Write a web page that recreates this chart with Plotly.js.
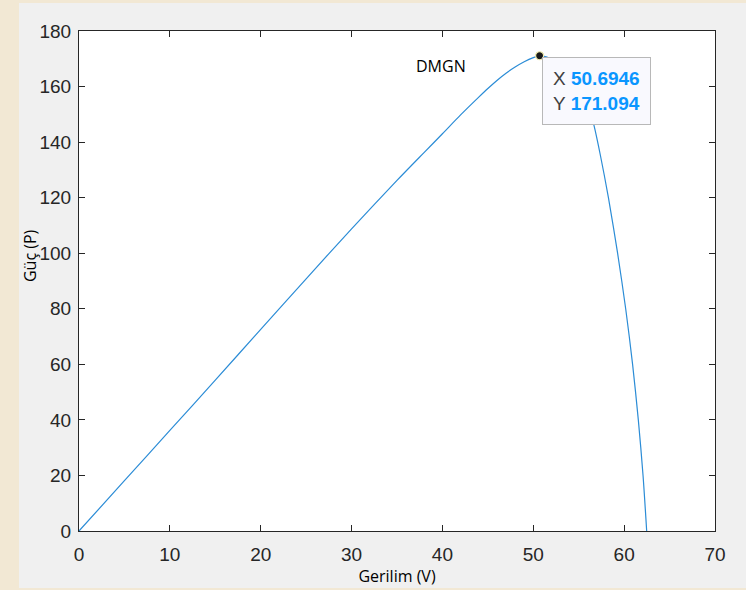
<!DOCTYPE html>
<html>
<head>
<meta charset="utf-8">
<script src="https://cdn.plot.ly/plotly-3.0.1.min.js"></script>
<style>
  html, body { margin: 0; padding: 0; }
  body { width: 746px; height: 590px; overflow: hidden; background: #f2e8d4; }
  #chart {
    width: 746px; height: 590px;
    background: linear-gradient(#f0f0f0, #f0f0f0) 19px 3px / 727px 585px no-repeat, #f2e8d4;
  }
</style>
</head>
<body>
<div id="chart"></div>
<script>
// Voltage (V) and power (P)
const voltage = [0, 5, 10, 15, 20, 25, 30, 35, 38, 40, 42, 44, 45, 46, 47, 48, 49, 50, 50.6946,
                 51.5, 52.5, 53.5, 54.5, 55.5, 56.1, 56.68, 57.4, 58.27, 59.28, 60.17, 60.93, 61.56, 62.08, 62.48];
const power   = [0, 18.1, 36.2, 54.3, 72.6, 90.8, 108.8, 126.2, 136.3, 143.0, 149.8, 156.2, 159.3, 162.2, 164.8, 167.0, 168.9, 170.4, 171.094,
                 170.6, 169.0, 166.3, 162.3, 157.2, 152.8, 146.0, 135.0, 120.0, 100.0, 80.0, 60.0, 40.0, 20.0, 0];
const mppV = 50.6946;
const mppP = 171.094;
const xTicks = [0, 10, 20, 30, 40, 50, 60, 70];
const yTicks = [0, 20, 40, 60, 80, 100, 120, 140, 160, 180];

const curve = {
  x: voltage, y: power, type: 'scatter', mode: 'lines',
  line: { color: '#2b8cd6', width: 1.2, shape: 'spline', smoothing: 0.8 },
  hoverinfo: 'skip', showlegend: false
};
const tip = {
  x: [mppV], y: [mppP], type: 'scatter', mode: 'markers',
  marker: { color: '#1a1a1a', size: 8, line: { color: '#f3eeb0', width: 1.2 } },
  hoverinfo: 'skip', showlegend: false
};

const axisCommon = {
  showgrid: false, zeroline: false,
  showline: true, linecolor: '#262626', linewidth: 1,
  mirror: 'ticks', ticks: 'inside', ticklen: 6, tickwidth: 1, tickcolor: '#262626',
  tickfont: { family: 'Liberation Sans, Arial, sans-serif', size: 19, color: '#262626' },
  fixedrange: true
};

const layout = {
  width: 746, height: 590,
  margin: { l: 79, r: 31, t: 31, b: 59, pad: 0 },
  paper_bgcolor: 'rgba(0,0,0,0)',
  plot_bgcolor: '#ffffff',
  xaxis: Object.assign({}, axisCommon, {
    range: [0, 70], tickvals: xTicks, ticktext: xTicks.map(String),
    ticklabelstandoff: 6,
    title: { text: 'Gerilim (V)', font: { family: 'Open Sans, sans-serif', size: 16, color: '#000' }, standoff: 4 }
  }),
  yaxis: Object.assign({}, axisCommon, {
    range: [0, 180], tickvals: yTicks, ticktext: yTicks.map(String),
    ticklabelstandoff: 3
  }),
  annotations: [
    {
      xref: 'paper', yref: 'paper', x: -0.077, y: 0.55,
      text: 'Güç (P)', textangle: -90, showarrow: false,
      xanchor: 'center', yanchor: 'middle',
      font: { family: 'Open Sans, sans-serif', size: 16, color: '#000' }
    },
    {
      x: 39.8, y: 167.4, xref: 'x', yref: 'y', text: 'DMGN', showarrow: false,
      font: { family: 'Open Sans, sans-serif', size: 16, color: '#000' }
    },
    {
      x: mppV, y: mppP, xref: 'x', yref: 'y',
      text: '<span style="color:#404040">X</span> <b style="color:#0a96ff">' + mppV + '</b><br>' +
            '<span style="color:#404040">Y</span> <b style="color:#0a96ff">' + mppP + '</b>',
      showarrow: false, xanchor: 'left', yanchor: 'top', align: 'left',
      xshift: 2, yshift: -1,
      bgcolor: '#f9f9fe', bordercolor: '#b8b8b8', borderwidth: 1, borderpad: 10,
      font: { family: 'Liberation Sans, Arial, sans-serif', size: 19, color: '#404040' }
    }
  ]
};

Plotly.newPlot('chart', [curve, tip], layout, { displayModeBar: false, staticPlot: true });
</script>
</body>
</html>
